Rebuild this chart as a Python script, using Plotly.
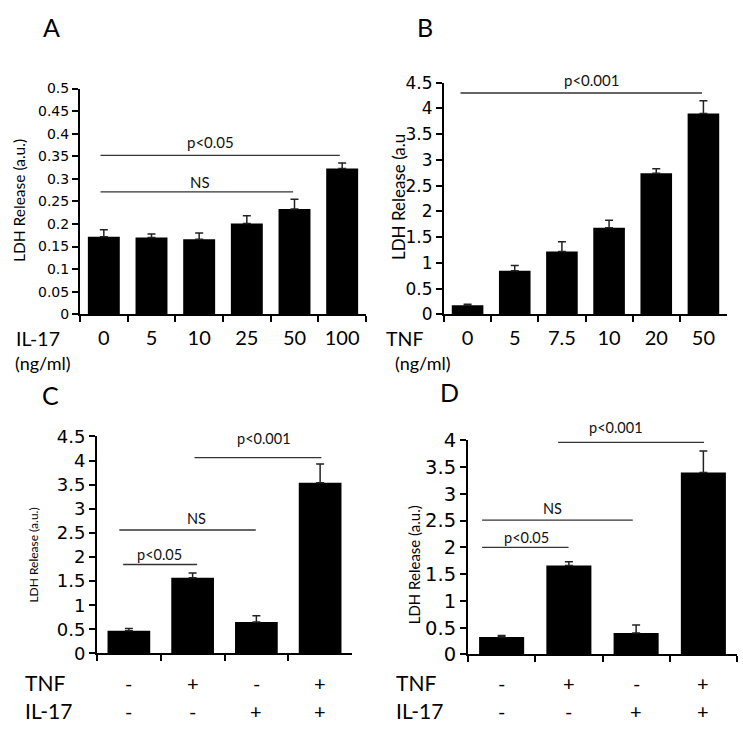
import plotly.graph_objects as go

W = 743.0

# ---------------- data ----------------
a_cats = ["0", "5", "10", "25", "50", "100"]
a_means = [0.172, 0.170, 0.166, 0.201, 0.233, 0.323]
a_errs = [0.015, 0.008, 0.014, 0.017, 0.022, 0.012]

b_cats = ["0", "5", "7.5", "10", "20", "50"]
b_means = [0.175, 0.846, 1.22, 1.68, 2.74, 3.90]
b_errs = [0.02, 0.10, 0.19, 0.15, 0.09, 0.25]

cd_tnf = ["-", "+", "-", "+"]
cd_il17 = ["-", "-", "+", "+"]
cd_cats = ["c1", "c2", "c3", "c4"]

c_means = [0.47, 1.57, 0.655, 3.54]
c_errs = [0.05, 0.10, 0.125, 0.39]

d_means = [0.325, 1.66, 0.40, 3.40]
d_errs = [0.03, 0.07, 0.15, 0.40]

# significance brackets: (from, to, y-line, label, text x, text y)
a_sig = [(-0.07, 4.95, 0.352, "p<0.05", 2.23, 0.382),
         (-0.07, 3.97, 0.271, "NS", 2.02, 0.292)]
b_sig = [(-0.15, 4.97, 4.30, "p<0.001", 2.62, 4.56)]
c_sig = [(-0.09, 1.07, 1.845, "p<0.05", 0.48, 2.06),
         (-0.15, 1.99, 2.56, "NS", 1.06, 2.80),
         (1.03, 3.02, 4.06, "p<0.001", 2.12, 4.46)]
d_sig = [(-0.29, 0.995, 2.00, "p<0.05", 0.37, 2.19),
         (-0.29, 1.95, 2.51, "NS", 0.76, 2.73),
         (0.84, 3.01, 3.96, "p<0.001", 1.70, 4.23)]

FONT = "DejaVu Sans, Arial, sans-serif"
LBL = "Lato, Liberation Sans, sans-serif"


def px(x):
    return x / W


def py(y):
    return 1 - y / W


panels = [
    dict(name="A", cats=a_cats, means=a_means, errs=a_errs, sig=a_sig,
         xd=(80, 366), yd=(80, 313), rng=[0, 0.5], dtick=0.05, tickfs=14,
         catfs=20, ytitle="LDH Release (a.u.)", yt_x=19, yt_y=196, yt_fs=15.5,
         letter=(52, 16), row=True, sigfs=15),
    dict(name="B", cats=b_cats, means=b_means, errs=b_errs, sig=b_sig,
         xd=(444, 727), yd=(74, 313), rng=[0, 4.5], dtick=0.5, tickfs=17,
         catfs=20, ytitle="LDH Release (a.u", yt_x=398, yt_y=192, yt_fs=17,
         letter=(425, 16), row=True, sigfs=15),
    dict(name="C", cats=cd_cats, means=c_means, errs=c_errs, sig=c_sig,
         xd=(97, 352), yd=(439, 663), rng=[0, 4.5], dtick=0.5, tickfs=18,
         catfs=20, ytitle="LDH Release (a.u.)", yt_x=34, yt_y=562, yt_fs=12,
         letter=(50, 396), row=False, sigfs=14.5),
    dict(name="D", cats=cd_cats, means=d_means, errs=d_errs, sig=d_sig,
         xd=(468, 737), yd=(443, 664), rng=[0, 4], dtick=0.5, tickfs=19.5,
         catfs=20, ytitle="LDH Release (a.u.)", yt_x=414, yt_y=572, yt_fs=15,
         letter=(449, 393), row=False, sigfs=14.5),
]

fig = go.Figure()
annotations = []
shapes = []

for i, p in enumerate(panels):
    n = i + 1
    xa = "x" if n == 1 else f"x{n}"
    ya = "y" if n == 1 else f"y{n}"
    fig.add_trace(go.Bar(
        x=p["cats"], y=p["means"], width=0.67,
        marker=dict(color="black", line=dict(width=0)),
        error_y=dict(type="data", array=p["errs"], arrayminus=[0] * len(p["errs"]),
                     symmetric=False, color="#222222", thickness=1.5, width=4),
        xaxis=xa, yaxis=ya, showlegend=False))

    xkey = "xaxis" if n == 1 else f"xaxis{n}"
    ykey = "yaxis" if n == 1 else f"yaxis{n}"
    ydom = [py(p["yd"][1]), py(p["yd"][0])]
    fig.update_layout(**{
        xkey: dict(domain=[px(p["xd"][0]), px(p["xd"][1])], anchor=ya,
                   type="category", tickson="boundaries", ticks="outside",
                   ticklen=6, tickwidth=2, tickcolor="black",
                   showline=True, linecolor="black", linewidth=2,
                   showgrid=False, zeroline=False, range=[-0.5, len(p["cats"]) - 0.5],
                   showticklabels=p["row"], ticklabelstandoff=5,
                   tickfont=dict(family=LBL, size=p["catfs"], color="black")),
        ykey: dict(domain=ydom, anchor=xa,
                   range=p["rng"], dtick=p["dtick"], tick0=0, ticks="outside",
                   ticklen=6, tickwidth=2, tickcolor="black",
                   showline=True, linecolor="black", linewidth=2,
                   showgrid=False, zeroline=False,
                   tickfont=dict(family=FONT, size=p["tickfs"], color="black")),
    })

    r0, r1 = p["rng"]

    def to_paper(v, r0=r0, r1=r1, ydom=ydom):
        return ydom[0] + (v - r0) / (r1 - r0) * (ydom[1] - ydom[0])

    for (x0, x1, yl, txt, tx, ty) in p["sig"]:
        shapes.append(dict(type="line", xref=xa, yref=ya, x0=x0, x1=x1, y0=yl, y1=yl,
                           line=dict(color="#333333", width=1.3)))
        annotations.append(dict(xref=xa, yref="paper", x=tx, y=to_paper(ty), text=txt,
                                showarrow=False,
                                font=dict(family=LBL, size=p["sigfs"], color="#111111"),
                                xanchor="center", yanchor="middle"))

    annotations.append(dict(xref="paper", yref="paper", x=px(p["yt_x"]), y=py(p["yt_y"]),
                            text=p["ytitle"], textangle=-90, showarrow=False,
                            font=dict(family=LBL, size=p["yt_fs"], color="black"),
                            xanchor="center", yanchor="middle"))
    annotations.append(dict(xref="paper", yref="paper", x=px(p["letter"][0]), y=py(p["letter"][1]),
                            text=p["name"], showarrow=False,
                            font=dict(family=LBL, size=25, color="black"),
                            xanchor="center", yanchor="middle"))

    if not p["row"]:
        row_y = [693, 722]
        left = p["xd"][0] - 74
        for lab, vals, yy in (("TNF", cd_tnf, row_y[0]), ("IL-17", cd_il17, row_y[1])):
            annotations.append(dict(xref="paper", yref="paper", x=px(left), y=py(yy),
                                    text=lab, showarrow=False, xanchor="left", yanchor="middle",
                                    font=dict(family=LBL, size=21, color="black")))
            for j, v in enumerate(vals):
                annotations.append(dict(xref=xa, yref="paper", x=j, y=py(yy), text=v,
                                        showarrow=False, xanchor="center", yanchor="middle",
                                        font=dict(family=LBL, size=20, color="black")))

# row labels for A and B
annotations += [
    dict(xref="paper", yref="paper", x=px(14), y=py(338), text="IL-17", showarrow=False,
         xanchor="left", yanchor="middle", font=dict(family=LBL, size=19.5, color="black")),
    dict(xref="paper", yref="paper", x=px(13), y=py(363), text="(ng/ml)", showarrow=False,
         xanchor="left", yanchor="middle", font=dict(family=LBL, size=18, color="black")),
    dict(xref="paper", yref="paper", x=px(384), y=py(338), text="TNF", showarrow=False,
         xanchor="left", yanchor="middle", font=dict(family=LBL, size=19.5, color="black")),
    dict(xref="paper", yref="paper", x=px(393), y=py(363), text="(ng/ml)", showarrow=False,
         xanchor="left", yanchor="middle", font=dict(family=LBL, size=18, color="black")),
]

fig.update_layout(width=743, height=743, margin=dict(l=0, r=0, t=0, b=0),
                  paper_bgcolor="white", plot_bgcolor="white",
                  annotations=annotations, shapes=shapes, bargap=0.33)

fig.write_html("out.html", config={"displayModeBar": False},
               post_script="document.body.style.margin='0px';")
